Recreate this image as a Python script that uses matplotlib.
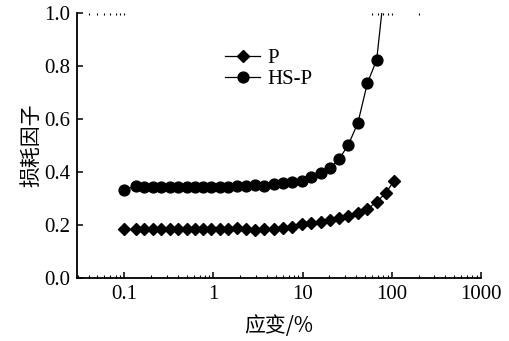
# -*- coding: utf-8 -*-
import matplotlib
matplotlib.use('Agg')
import matplotlib.pyplot as plt
from matplotlib.ticker import FixedLocator, FixedFormatter, LogLocator, NullFormatter

# 数据
strain = [0.1, 0.136, 0.168, 0.208, 0.258, 0.323, 0.40, 0.50, 0.62, 0.77,
          0.95, 1.18, 1.46, 1.85, 2.32, 2.96, 3.74, 4.76, 6.0, 7.66,
          9.75, 12.5, 15.9, 20.1, 25.6, 32.6, 41.8, 53.3, 67.8, 85.7, 106]
p_loss = [0.183, 0.183, 0.183, 0.183, 0.183, 0.183, 0.183, 0.183, 0.183, 0.183,
          0.183, 0.183, 0.183, 0.187, 0.185, 0.181, 0.184, 0.184, 0.188, 0.194,
          0.204, 0.206, 0.212, 0.219, 0.225, 0.234, 0.246, 0.259, 0.288, 0.320, 0.366]

hs_strain = [0.1, 0.136, 0.168, 0.208, 0.258, 0.323, 0.40, 0.50, 0.62, 0.77,
             0.95, 1.18, 1.46, 1.85, 2.32, 2.96, 3.74, 4.76, 6.0, 7.66,
             9.75, 12.5, 15.9, 20.1, 25.6, 32.6, 41.8, 53.3, 67.8, 85.7]
hs_loss = [0.332, 0.347, 0.345, 0.344, 0.345, 0.344, 0.345, 0.344, 0.345, 0.343,
           0.345, 0.344, 0.345, 0.346, 0.347, 0.350, 0.347, 0.354, 0.357, 0.361,
           0.367, 0.382, 0.395, 0.414, 0.448, 0.502, 0.586, 0.735, 0.823, 1.14]

x_ticks = [0.1, 1, 10, 100, 1000]
x_labels = ['0.1', '1', '10', '100', '1000']
y_ticks = [0.0, 0.2, 0.4, 0.6, 0.8, 1.0]
top_ticks = [0.04, 0.05, 0.06, 0.07, 0.08, 0.09, 0.1, 60, 70, 80, 90, 100, 200]

plt.rcParams['font.family'] = ['Liberation Serif', 'Noto Sans CJK SC']

fig = plt.figure(figsize=(5.1, 3.41), dpi=100)
ax = fig.add_axes([0.151, 0.185, 0.792, 0.777])

ax.plot(strain, p_loss, color='black', lw=0.9, marker='D', markersize=6.3, label='P')
ax.plot(hs_strain, hs_loss, color='black', lw=0.9, marker='o', markersize=7.8, label='HS-P')

ax.set_xscale('log')
ax.set_xlim(0.0296, 1000)
ax.set_ylim(0, 1.0)

ax.xaxis.set_major_locator(FixedLocator(x_ticks))
ax.xaxis.set_major_formatter(FixedFormatter(x_labels))
ax.xaxis.set_minor_locator(LogLocator(base=10, subs=range(2, 10)))
ax.xaxis.set_minor_formatter(NullFormatter())
ax.set_yticks(y_ticks)
ax.set_yticklabels([f'{v:.1f}' for v in y_ticks])

for s in ['top', 'right']:
    ax.spines[s].set_visible(False)
for s in ['left', 'bottom']:
    ax.spines[s].set_linewidth(1.3)

ax.tick_params(which='major', direction='in', length=4, width=1.1, labelsize=15, pad=5)
ax.tick_params(which='minor', direction='in', length=2.2, width=0.8)

# 顶部残留的小刻度
top = ax.secondary_xaxis('top')
top.xaxis.set_major_locator(FixedLocator(top_ticks))
top.xaxis.set_minor_locator(FixedLocator([]))
top.xaxis.set_major_formatter(NullFormatter())
top.spines['top'].set_visible(False)
top.tick_params(which='major', direction='in', length=1.2, width=0.8)

ax.set_xlabel('应变/%', fontsize=15, family=['Noto Sans CJK SC'], labelpad=8)
ax.set_ylabel('损耗因子', fontsize=15, family=['Noto Sans CJK SC'], labelpad=1)

ax.legend(loc='upper left', bbox_to_anchor=(0.366, 0.865), frameon=False, fontsize=15,
          handlelength=1.7, handletextpad=0.35, labelspacing=0.05, borderpad=0,
          borderaxespad=0)

fig.savefig('out.png', dpi=100)
